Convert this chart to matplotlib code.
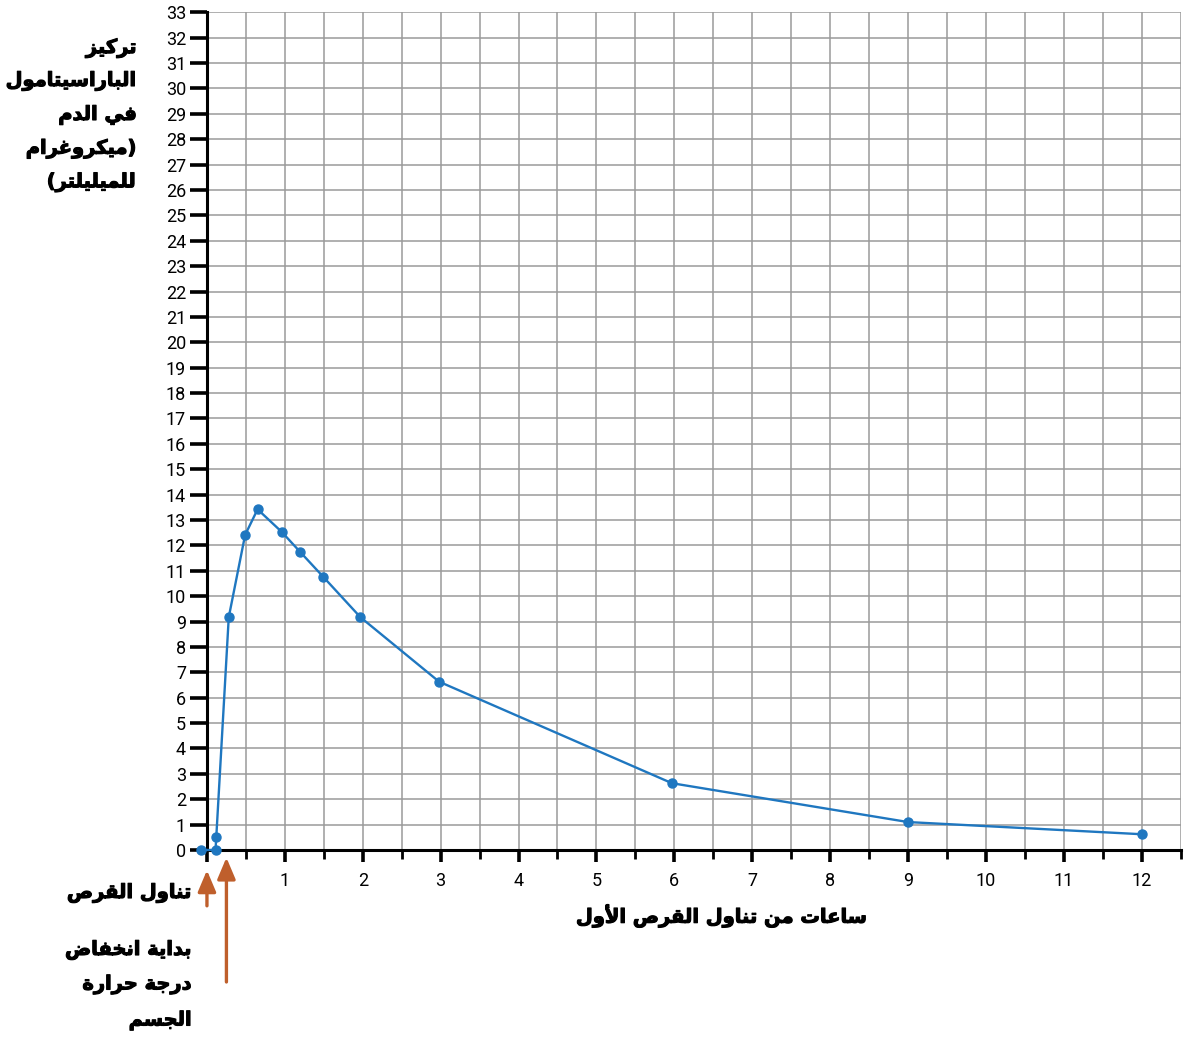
import matplotlib
matplotlib.use("Agg")
import matplotlib.pyplot as plt
import matplotlib.patheffects as pe
from matplotlib.ticker import MultipleLocator, FixedLocator

# Readings: hours after the first tablet, blood level (ug/ml)
hours = [-0.08, 0.11, 0.12, 0.28, 0.49, 0.65, 0.96, 1.20, 1.49, 1.97, 2.98, 5.97, 9.0, 12.0]
conc = [0, 0, 0.52, 9.17, 12.41, 13.42, 12.53, 11.73, 10.77, 9.17, 6.63, 2.63, 1.10, 0.62]

x_ticks = list(range(1, 13))
y_ticks = list(range(0, 34))

tablet_time = 0.0
fever_drop_time = 0.25

y_title = ["تركيز", "الباراسيتامول", "في الدم", "(ميكروغرام", "للميليلتر)"]
x_title = "ساعات من تناول القرص الأول"
tablet_label = "تناول القرص"
fever_label = ["بداية انخفاض", "درجة حرارة", "الجسم"]

# --- minimal Arabic shaping (matplotlib has no RTL support) ---
# letter -> (isolated, final, initial, medial); right-joining letters have 2 forms
FORMS = {
    "ء": (0xFE80,), "آ": (0xFE81, 0xFE82), "أ": (0xFE83, 0xFE84),
    "ؤ": (0xFE85, 0xFE86), "إ": (0xFE87, 0xFE88),
    "ئ": (0xFE89, 0xFE8A, 0xFE8B, 0xFE8C), "ا": (0xFE8D, 0xFE8E),
    "ب": (0xFE8F, 0xFE90, 0xFE91, 0xFE92), "ة": (0xFE93, 0xFE94),
    "ت": (0xFE95, 0xFE96, 0xFE97, 0xFE98), "ث": (0xFE99, 0xFE9A, 0xFE9B, 0xFE9C),
    "ج": (0xFE9D, 0xFE9E, 0xFE9F, 0xFEA0), "ح": (0xFEA1, 0xFEA2, 0xFEA3, 0xFEA4),
    "خ": (0xFEA5, 0xFEA6, 0xFEA7, 0xFEA8), "د": (0xFEA9, 0xFEAA),
    "ذ": (0xFEAB, 0xFEAC), "ر": (0xFEAD, 0xFEAE), "ز": (0xFEAF, 0xFEB0),
    "س": (0xFEB1, 0xFEB2, 0xFEB3, 0xFEB4), "ش": (0xFEB5, 0xFEB6, 0xFEB7, 0xFEB8),
    "ص": (0xFEB9, 0xFEBA, 0xFEBB, 0xFEBC), "ض": (0xFEBD, 0xFEBE, 0xFEBF, 0xFEC0),
    "ط": (0xFEC1, 0xFEC2, 0xFEC3, 0xFEC4), "ظ": (0xFEC5, 0xFEC6, 0xFEC7, 0xFEC8),
    "ع": (0xFEC9, 0xFECA, 0xFECB, 0xFECC), "غ": (0xFECD, 0xFECE, 0xFECF, 0xFED0),
    "ف": (0xFED1, 0xFED2, 0xFED3, 0xFED4), "ق": (0xFED5, 0xFED6, 0xFED7, 0xFED8),
    "ك": (0xFED9, 0xFEDA, 0xFEDB, 0xFEDC), "ل": (0xFEDD, 0xFEDE, 0xFEDF, 0xFEE0),
    "م": (0xFEE1, 0xFEE2, 0xFEE3, 0xFEE4), "ن": (0xFEE5, 0xFEE6, 0xFEE7, 0xFEE8),
    "ه": (0xFEE9, 0xFEEA, 0xFEEB, 0xFEEC), "و": (0xFEED, 0xFEEE),
    "ى": (0xFEEF, 0xFEF0), "ي": (0xFEF1, 0xFEF2, 0xFEF3, 0xFEF4),
}
LAM_ALEF = {"ا": (0xFEFB, 0xFEFC), "أ": (0xFEF7, 0xFEF8),
            "إ": (0xFEF9, 0xFEFA), "آ": (0xFEF5, 0xFEF6)}
MIRROR = {"(": ")", ")": "("}


def joins_left(c):
    return c in FORMS and len(FORMS[c]) == 4


def ar(text):
    """Shape Arabic letters, then reverse to visual order (mirroring brackets)."""
    out = []
    i = 0
    n = len(text)
    while i < n:
        c = text[i]
        prev = text[i - 1] if i > 0 else ""
        p = joins_left(prev)
        if c == "ل" and i + 1 < n and text[i + 1] in LAM_ALEF:
            lig = LAM_ALEF[text[i + 1]]
            out.append(chr(lig[1] if p else lig[0]))
            i += 2
            continue
        if c in FORMS:
            f = FORMS[c]
            nxt = text[i + 1] if i + 1 < n else ""
            q = joins_left(c) and nxt in FORMS
            if len(f) == 1:
                out.append(chr(f[0]))
            elif p and q:
                out.append(chr(f[3]))
            elif p:
                out.append(chr(f[1]))
            elif q:
                out.append(chr(f[2]))
            else:
                out.append(chr(f[0]))
        else:
            out.append(MIRROR.get(c, c))
        i += 1
    return "".join(reversed(out))


blue = "#1f77c0"
orange = "#bf5f2c"
grid_col = "#9a9a9a"

fig = plt.figure(figsize=(11.88, 10.41), dpi=100)
ax = fig.add_axes([0.1742, 0.1835, 0.8196, 0.8047])

ax.plot(hours, conc, color=blue, lw=1.7, marker="o", ms=6.5, clip_on=False, zorder=5)

ax.set_xlim(0, 12.5)
ax.set_ylim(0, 33)

ax.xaxis.set_minor_locator(MultipleLocator(0.5))
ax.yaxis.set_major_locator(FixedLocator(y_ticks))
ax.set_xticks([0] + x_ticks)
ax.set_xticklabels([""] + [str(v) for v in x_ticks])
ax.set_yticklabels([str(v) for v in y_ticks])

ax.grid(True, which="both", axis="x", color=grid_col, lw=1.1)
ax.grid(True, which="major", axis="y", color=grid_col, lw=1.1)
ax.set_axisbelow(True)

for s in ["top", "right"]:
    ax.spines[s].set_visible(False)
for s in ["left", "bottom"]:
    ax.spines[s].set_linewidth(2.2)
    ax.spines[s].set_zorder(4)

ax.tick_params(axis="y", which="major", length=12, width=2.6, pad=3,
               labelsize=13, labelfontfamily="Roboto")
ax.tick_params(axis="x", which="major", length=8.5, width=2.6, pad=7,
               labelsize=13, labelfontfamily="Roboto")
ax.tick_params(axis="x", which="minor", length=6.5, width=2.0)

# heavier strokes to get closer to the Arial Bold look of the original
arfont = dict(family="DejaVu Sans", fontweight="bold", fontsize=14,
              path_effects=[pe.withStroke(linewidth=0.8, foreground="black")])

# y axis title, stacked lines on the left
for k, line in enumerate(y_title):
    fig.text(137 / 1188, 1 - (48 + 33.5 * k) / 1041, ar(line), ha="right", va="center", **arfont)

fig.text(722 / 1188, 1 - 916 / 1041, ar(x_title), ha="center", va="center", **arfont)

# annotations below the axis
fig.text(192 / 1188, 1 - 893 / 1041, ar(tablet_label), ha="right", va="center", **arfont)
for k, line in enumerate(fever_label):
    fig.text(192 / 1188, 1 - (950 + 35 * k) / 1041, ar(line), ha="right", va="center", **arfont)

# orange arrows pointing up to the time axis
arrow_style = dict(arrowstyle="-|>,head_length=1.3,head_width=0.55",
                   color=orange, lw=2.4, shrinkA=0, shrinkB=0)
ax.annotate("", xy=(tablet_time, -0.8), xytext=(tablet_time, -2.2),
            textcoords="data", annotation_clip=False, arrowprops=arrow_style)
ax.annotate("", xy=(fever_drop_time, -0.3), xytext=(fever_drop_time, -5.2),
            textcoords="data", annotation_clip=False, arrowprops=arrow_style)

fig.savefig("out.png", dpi=100)
